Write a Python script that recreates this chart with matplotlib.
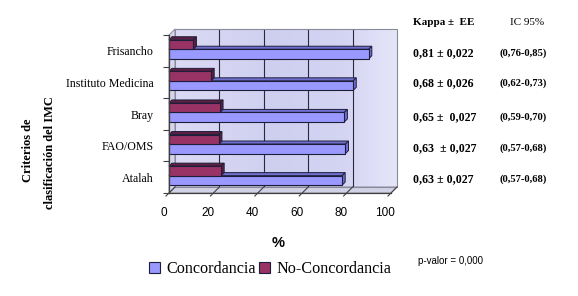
import matplotlib
matplotlib.use("Agg")
import matplotlib.pyplot as plt
import matplotlib.transforms as mtransforms
from matplotlib.patches import Polygon, Rectangle, Patch
import numpy as np

# ---------------- data ----------------
categorias = ["Atalah", "FAO/OMS", "Bray", "Instituto Medicina", "Frisancho"]
concordancia = [78, 79.5, 79, 83, 90]
no_concordancia = [23.5, 22.5, 23, 19, 11]
kappa_ee = ["0,63 \u00b1 0,027", "0,63  \u00b1 0,027", "0,65 \u00b1  0,027",
            "0,68 \u00b1 0,026", "0,81 \u00b1 0,022"]
ic95 = ["(0,57-0,68)", "(0,57-0,68)", "(0,59-0,70)", "(0,62-0,73)", "(0,76-0,85)"]
xticks = [0, 20, 40, 60, 80, 100]

W, H = 578, 296
fig = plt.figure(figsize=(W / 100, H / 100), dpi=100)
fig.patch.set_facecolor("white")

def fx(px):
    return px / W

def fy(py):
    return 1 - py / H

ax_l, ax_r, ax_t, ax_b = 169, 391, 35, 193
ax = fig.add_axes([fx(ax_l), fy(ax_b), (ax_r - ax_l) / W, (ax_b - ax_t) / H])
ax.set_facecolor("none")
NCAT = len(categorias)
XMAX = 100.0

# pixel -> data unit conversions
ux = XMAX / (ax_r - ax_l)
uy = NCAT / (ax_b - ax_t)
DEP = 6  # wall depth, px
DX, DY = DEP * ux, DEP * uy
off = mtransforms.offset_copy(ax.transData, fig=fig, x=DEP, y=DEP, units="dots")

# ---- back wall gradient ----
stops = np.array([[0.0, 0.86, 0.86, 0.96],
                  [0.45, 0.81, 0.81, 0.94],
                  [0.75, 0.83, 0.83, 0.95],
                  [1.0, 0.90, 0.90, 0.98]])
xs = np.linspace(0, 1, 200)
grad = np.stack([np.interp(xs, stops[:, 0], stops[:, k]) for k in (1, 2, 3)], axis=-1)[None, :, :]
im = ax.imshow(grad, extent=[0, XMAX, 0, NCAT], aspect="auto", transform=off,
               zorder=0.5, interpolation="bilinear")
im.set_clip_on(False)
ax.add_patch(Rectangle((0, 0), XMAX, NCAT, transform=off, fill=False,
                       edgecolor="#8a8a9a", lw=0.8, zorder=0.9, clip_on=False))

# back-wall gridlines
for xv in xticks[1:-1]:
    ax.plot([xv, xv], [0, NCAT], transform=off, color="#2a2a3a", lw=0.8,
            zorder=0.8, clip_on=False)

# left wall and floor
ax.add_patch(Polygon([(0, 0), (0, NCAT), (DX, NCAT + DY), (DX, DY)], closed=True,
                     facecolor="#d6d6ea", edgecolor="#8a8a9a", lw=0.7, zorder=0.6,
                     clip_on=False))
ax.add_patch(Polygon([(0, 0), (XMAX, 0), (XMAX + DX, DY), (DX, DY)], closed=True,
                     facecolor="#d2d2e6", edgecolor="#8a8a9a", lw=0.7, zorder=0.6,
                     clip_on=False))

# floor tick diagonals
for xv in xticks:
    ax.plot([xv - 3 * ux, xv + DX], [-3 * uy, DY], color="#404040", lw=0.8,
            zorder=1.0, clip_on=False)

# ---- bars with pseudo depth ----
bdx, bdy = 3 * ux, 3 * uy
def bar3d(v, y0, h, face, dark):
    y1 = y0 + h
    ec = "#1e1e3c"
    ax.add_patch(Polygon([(0, y1), (v, y1), (v + bdx, y1 + bdy), (bdx, y1 + bdy)],
                         closed=True, facecolor=dark, edgecolor=ec, lw=0.7,
                         zorder=3, clip_on=False))
    ax.add_patch(Polygon([(v, y0), (v, y1), (v + bdx, y1 + bdy), (v + bdx, y0 + bdy)],
                         closed=True, facecolor=dark, edgecolor=ec, lw=0.7,
                         zorder=3, clip_on=False))
    ax.barh(y0 + h / 2, v, height=h, left=0, color=face, edgecolor=ec, lw=0.8,
            zorder=3.1)

h = 0.3
for i in range(NCAT):
    bar3d(concordancia[i], i + 0.25, h, "#9999ff", "#6f6fcf")
    bar3d(no_concordancia[i], i + 0.25 + h, h, "#993366", "#5e1f40")

# ---- axes styling ----
ax.set_xlim(0, XMAX)
ax.set_ylim(0, NCAT)
for s in ("top", "right"):
    ax.spines[s].set_visible(False)
for s in ("left", "bottom"):
    ax.spines[s].set_color("#404040")
    ax.spines[s].set_linewidth(0.9)
    ax.spines[s].set_zorder(4)

ax.set_yticks(np.arange(NCAT + 1))
ax.set_yticklabels([])
ax.set_yticks(np.arange(NCAT) + 0.5, minor=True)
ax.set_yticklabels(categorias, minor=True, family="Liberation Serif", fontsize=8.6)
ax.tick_params(axis="y", which="major", length=4, width=0.8, color="#404040", direction="out")
ax.tick_params(axis="y", which="minor", length=0, pad=11)

ax.set_xticks(xticks)
ax.set_xticklabels([str(v) for v in xticks], family="Liberation Sans", fontsize=8.5)
ax.tick_params(axis="x", length=0, pad=10)
shift = mtransforms.ScaledTranslation(-4 / 72, 0, fig.dpi_scale_trans)
for lab in ax.get_xticklabels():
    lab.set_transform(lab.get_transform() + shift)

# ---- labels ----
fig.text(fx(28), fy(150), "Criterios de", rotation=90, ha="center", va="center",
         family="Liberation Serif", fontweight="bold", fontsize=9)
fig.text(fx(50), fy(153), "clasificación del IMC", rotation=90, ha="center", va="center",
         family="Liberation Serif", fontweight="bold", fontsize=9)
fig.text(fx(278), fy(243), "%", ha="center", va="center", family="Liberation Sans",
         fontweight="bold", fontsize=10.5)

# legend
handles = [Patch(facecolor="#9999ff", edgecolor="#1e1e3c", lw=0.8, label="Concordancia"),
           Patch(facecolor="#993366", edgecolor="#1e1e3c", lw=0.8, label="No-Concordancia")]
fig.legend(handles=handles, loc="center left", bbox_to_anchor=(fx(149), fy(269)),
           ncol=2, frameon=False, prop={"family": "Liberation Serif", "size": 11.6},
           handlelength=0.7, handleheight=0.7, handletextpad=0.4,
           columnspacing=0.15, borderpad=0, borderaxespad=0)

fig.text(fx(418), fy(261), "p-valor = 0,000", ha="left", va="center",
         family="Liberation Sans", fontsize=7)

# right table
fig.text(fx(413), fy(22.7), "Kappa \u00b1  EE", ha="left", va="center",
         family="Liberation Serif", fontweight="bold", fontsize=8)
fig.text(fx(510), fy(22.7), "IC 95%", ha="left", va="center",
         family="Liberation Serif", fontsize=8)
row_y = [179.3, 147.7, 116.7, 82.7, 52.7]
for i in range(NCAT):
    fig.text(fx(413), fy(row_y[i]), kappa_ee[i], ha="left", va="center",
             family="Liberation Serif", fontweight="bold", fontsize=8.6)
    fig.text(fx(500), fy(row_y[i]), ic95[i], ha="left", va="center",
             family="Liberation Serif", fontweight="bold", fontsize=7.6)

fig.savefig("out.png", dpi=100)
